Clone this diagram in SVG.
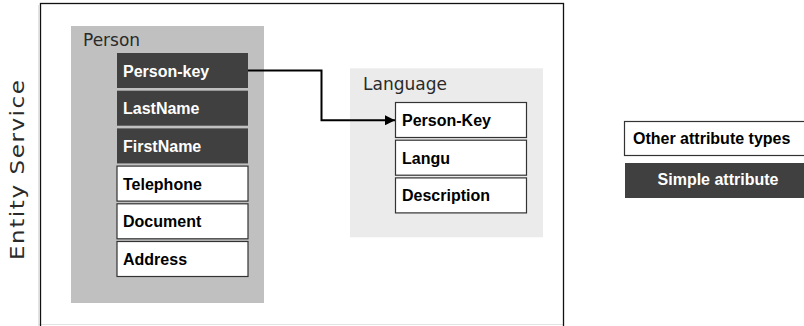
<svg xmlns="http://www.w3.org/2000/svg" width="804" height="326" viewBox="0 0 804 326">
<defs>
<style>
.grp{font-family:"DejaVu Sans",Verdana,sans-serif;font-size:17px;fill:#2a2a2a}
.lbl{font-family:"Liberation Sans",Arial,sans-serif;font-size:16px;font-weight:bold}
.dark{fill:#404040}
.dtxt{fill:#fff}
.white{fill:#fff;stroke:#333;stroke-width:1.2}
.wtxt{fill:#000}
.conn{fill:none;stroke:#000;stroke-width:2}
</style>
<marker id="arr" viewBox="0 0 10 10" refX="10" refY="5" markerWidth="5" markerHeight="5" orient="auto" markerUnits="strokeWidth">
<path d="M0,0 L10,5 L0,10 Z" fill="#000"/>
</marker>
</defs>
<rect width="804" height="326" fill="#fff"/>
<g id="frame">
<line x1="38.5" y1="5" x2="38.5" y2="326" stroke="#e4e4e4" stroke-width="1"/>
<line x1="38" y1="324.5" x2="563" y2="324.5" stroke="#e4e4e4" stroke-width="1"/>
<rect x="40.5" y="3.5" width="523" height="340" fill="none" stroke="#111" stroke-width="1.3"/>
<text class="grp" transform="translate(24,260) rotate(-90) scale(1.15,1)" textLength="156.5" lengthAdjust="spacing" style="font-size:20px">Entity Service</text>
</g>
<g id="person">
<rect x="71" y="26" width="193" height="277" fill="#c0c0c0"/>
<text class="grp" x="83" y="46">Person</text>
<g id="person-key"><rect class="dark" x="117" y="53" width="131" height="35"/><text class="lbl dtxt" x="123" y="76.5">Person-key</text></g>
<g id="lastname"><rect class="dark" x="117" y="90.7" width="131" height="35"/><text class="lbl dtxt" x="123" y="114.2">LastName</text></g>
<g id="firstname"><rect class="dark" x="117" y="128.4" width="131" height="35"/><text class="lbl dtxt" x="123" y="151.9">FirstName</text></g>
<g id="telephone"><rect class="white" x="117" y="166.1" width="131" height="35"/><text class="lbl wtxt" x="123" y="189.6">Telephone</text></g>
<g id="document"><rect class="white" x="117" y="203.8" width="131" height="35"/><text class="lbl wtxt" x="123" y="227.3">Document</text></g>
<g id="address"><rect class="white" x="117" y="241.5" width="131" height="35"/><text class="lbl wtxt" x="123" y="265">Address</text></g>
</g>
<g id="language">
<rect x="350" y="68.3" width="193" height="169" fill="#ebebeb"/>
<text class="grp" x="363" y="90">Language</text>
<g id="lang-person-key"><rect class="white" x="395.5" y="102.5" width="131" height="35"/><text class="lbl wtxt" x="402" y="126">Person-Key</text></g>
<g id="langu"><rect class="white" x="395.5" y="140.2" width="131" height="35"/><text class="lbl wtxt" x="402" y="163.7">Langu</text></g>
<g id="description"><rect class="white" x="395.5" y="177.9" width="131" height="35"/><text class="lbl wtxt" x="402" y="201.4">Description</text></g>
</g>
<g id="connectors">
<path class="conn" d="M248,70.5 H321.5 V120.3 H395" marker-end="url(#arr)"/>
</g>
<g id="legend-other">
<rect class="white" x="624.5" y="121.5" width="190" height="34"/>
<text class="lbl wtxt" x="633" y="143.5">Other attribute types</text>
</g>
<g id="legend-simple">
<rect class="dark" x="625" y="163" width="190" height="35"/>
<text class="lbl dtxt" x="718" y="185" text-anchor="middle">Simple attribute</text>
</g>
</svg>
